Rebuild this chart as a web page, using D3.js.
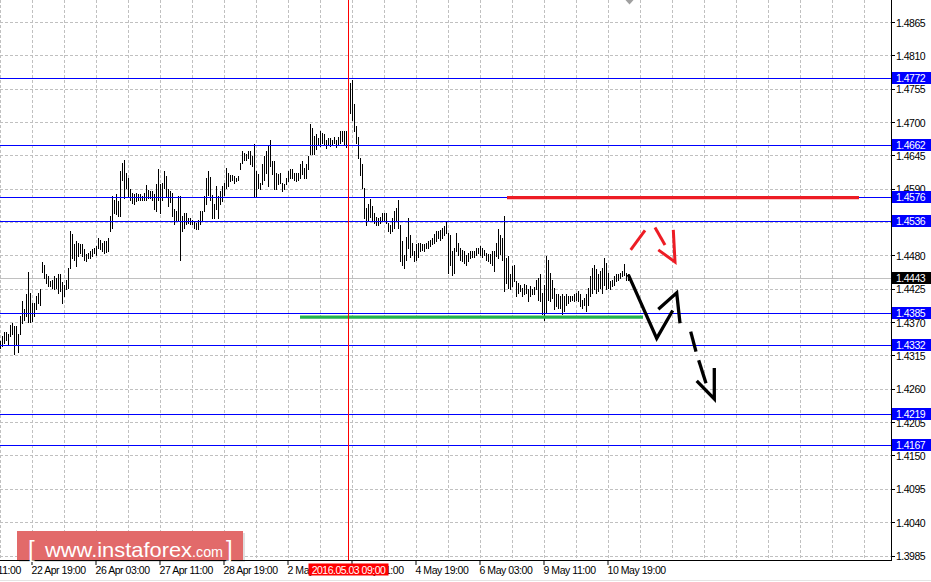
<!DOCTYPE html>
<html><head><meta charset="utf-8">
<script src="https://cdn.jsdelivr.net/npm/d3@7"></script>
<style>
body{margin:0;background:#fff;}
svg{display:block;font-family:"Liberation Sans",Arial,sans-serif;}
</style>
</head><body>
<svg id="chart" width="931" height="582"></svg>
<script>
// ---- data (hourly bars, GBP/USD-like) ----
const highs = [
1.4339,1.4347,1.4354,1.4354,1.4350,1.4365,1.4368,1.4363,1.4363,1.4350,
1.4380,1.4405,1.4391,1.4416,1.4452,1.4418,1.4402,1.4401,1.4413,1.4418,
1.4425,1.4469,1.4465,1.4449,1.4446,1.4438,1.4439,1.4446,1.4443,1.4449,
1.4449,1.4436,1.4432,1.4440,1.4460,1.4520,1.4515,1.4498,1.4504,1.4501,
1.4498,1.4498,1.4490,1.4482,1.4484,1.4487,1.4490,1.4493,1.4495,1.4508,
1.4506,1.4501,1.4504,1.4504,1.4508,1.4545,1.4578,1.4572,1.4581,1.4570,
1.4619,1.4633,1.4638,1.4616,1.4608,1.4589,1.4583,1.4581,1.4583,1.4581,
1.4581,1.4578,1.4583,1.4596,1.4588,1.4586,1.4586,1.4581,1.4597,1.4622,
1.4597,1.4600,1.4619,1.4611,1.4589,1.4586,1.4583,1.4556,1.4554,1.4578,
1.4578,1.4545,1.4550,1.4550,1.4542,1.4541,1.4539,1.4537,1.4534,1.4538,
1.4553,1.4554,1.4578,1.4608,1.4619,1.4609,1.4580,1.4564,1.4594,1.4578,
1.4586,1.4594,1.4600,1.4624,1.4616,1.4613,1.4612,1.4611,1.4608,1.4611,
1.4633,1.4653,1.4649,1.4647,1.4652,1.4653,1.4644,1.4664,1.4619,1.4614,
1.4600,1.4630,1.4644,1.4652,1.4660,1.4671,1.4636,1.4636,1.4616,1.4614,
1.4616,1.4600,1.4597,1.4608,1.4619,1.4622,1.4622,1.4616,1.4616,1.4616,
1.4630,1.4636,1.4625,1.4630,1.4644,1.4696,1.4690,1.4677,1.4680,1.4674,
1.4685,1.4682,1.4680,1.4671,1.4674,1.4674,1.4671,1.4676,1.4671,1.4676,
1.4686,1.4686,1.4686,1.4686,1.4688,1.4764,1.4770,1.4729,1.4693,1.4676,
1.4641,1.4630,1.4591,1.4558,1.4564,1.4573,1.4561,1.4550,1.4544,1.4541,
1.4544,1.4550,1.4550,1.4550,1.4533,1.4530,1.4541,1.4553,1.4558,1.4572,
1.4530,1.4503,1.4481,1.4511,1.4541,1.4514,1.4500,1.4487,1.4498,1.4500,
1.4500,1.4498,1.4499,1.4500,1.4503,1.4506,1.4509,1.4515,1.4521,1.4521,
1.4522,1.4525,1.4528,1.4536,1.4517,1.4514,1.4487,1.4492,1.4517,1.4500,
1.4492,1.4489,1.4487,1.4481,1.4484,1.4487,1.4487,1.4487,1.4492,1.4492,
1.4495,1.4492,1.4489,1.4484,1.4483,1.4482,1.4487,1.4487,1.4501,1.4523,
1.4514,1.4509,1.4545,1.4476,1.4479,1.4449,1.4462,1.4465,1.4438,1.4435,
1.4432,1.4427,1.4433,1.4432,1.4424,1.4429,1.4424,1.4428,1.4440,1.4442,
1.4449,1.4418,1.4432,1.4479,1.4473,1.4451,1.4440,1.4427,1.4416,1.4416,
1.4413,1.4416,1.4413,1.4416,1.4413,1.4413,1.4413,1.4416,1.4418,1.4421,
1.4416,1.4407,1.4410,1.4416,1.4427,1.4446,1.4460,1.4465,1.4457,1.4449,
1.4454,1.4460,1.4476,1.4468,1.4451,1.4438,1.4440,1.4446,1.4449,1.4449,
1.4451,1.4454,1.4466,1.4451,1.4449
];
const lows = [
1.4328,1.4330,1.4336,1.4341,1.4333,1.4347,1.4350,1.4318,1.4333,1.4321,
1.4350,1.4369,1.4374,1.4380,1.4370,1.4370,1.4372,1.4380,1.4391,1.4402,
1.4399,1.4452,1.4443,1.4435,1.4429,1.4429,1.4427,1.4424,1.4427,1.4418,
1.4421,1.4402,1.4413,1.4424,1.4427,1.4460,1.4476,1.4473,1.4462,1.4479,
1.4484,1.4479,1.4473,1.4471,1.4476,1.4476,1.4479,1.4484,1.4480,1.4493,
1.4490,1.4487,1.4484,1.4486,1.4487,1.4520,1.4526,1.4550,1.4548,1.4545,
1.4545,1.4605,1.4575,1.4592,1.4578,1.4572,1.4567,1.4564,1.4570,1.4572,
1.4571,1.4572,1.4572,1.4572,1.4575,1.4575,1.4572,1.4556,1.4553,1.4572,
1.4550,1.4571,1.4592,1.4578,1.4561,1.4568,1.4545,1.4531,1.4537,1.4539,
1.4473,1.4520,1.4526,1.4531,1.4534,1.4532,1.4531,1.4526,1.4523,1.4523,
1.4531,1.4539,1.4553,1.4564,1.4580,1.4572,1.4541,1.4542,1.4556,1.4542,
1.4564,1.4570,1.4580,1.4591,1.4594,1.4602,1.4605,1.4600,1.4602,1.4605,
1.4622,1.4633,1.4638,1.4638,1.4641,1.4630,1.4627,1.4578,1.4578,1.4592,
1.4589,1.4597,1.4605,1.4616,1.4594,1.4627,1.4614,1.4589,1.4589,1.4597,
1.4600,1.4586,1.4589,1.4597,1.4603,1.4608,1.4608,1.4605,1.4602,1.4605,
1.4608,1.4614,1.4608,1.4608,1.4622,1.4647,1.4647,1.4647,1.4655,1.4663,
1.4660,1.4665,1.4663,1.4657,1.4663,1.4660,1.4663,1.4665,1.4658,1.4663,
1.4665,1.4668,1.4663,1.4658,1.4665,1.4715,1.4704,1.4685,1.4665,1.4641,
1.4613,1.4591,1.4542,1.4530,1.4536,1.4544,1.4536,1.4533,1.4530,1.4530,
1.4533,1.4536,1.4539,1.4533,1.4520,1.4517,1.4520,1.4525,1.4536,1.4525,
1.4470,1.4464,1.4459,1.4473,1.4492,1.4478,1.4481,1.4470,1.4473,1.4478,
1.4487,1.4489,1.4488,1.4492,1.4492,1.4495,1.4498,1.4500,1.4503,1.4509,
1.4506,1.4509,1.4514,1.4517,1.4451,1.4464,1.4448,1.4451,1.4487,1.4481,
1.4473,1.4470,1.4467,1.4464,1.4470,1.4476,1.4478,1.4478,1.4481,1.4484,
1.4481,1.4478,1.4481,1.4473,1.4471,1.4468,1.4465,1.4454,1.4479,1.4476,
1.4482,1.4473,1.4421,1.4435,1.4427,1.4424,1.4429,1.4438,1.4413,1.4418,
1.4421,1.4413,1.4416,1.4418,1.4405,1.4413,1.4416,1.4417,1.4424,1.4407,
1.4405,1.4383,1.4374,1.4385,1.4407,1.4405,1.4410,1.4391,1.4396,1.4394,
1.4394,1.4383,1.4388,1.4399,1.4402,1.4405,1.4407,1.4405,1.4407,1.4405,
1.4396,1.4394,1.4399,1.4388,1.4399,1.4413,1.4418,1.4424,1.4418,1.4421,
1.4427,1.4418,1.4432,1.4424,1.4427,1.4424,1.4429,1.4432,1.4438,1.4440,
1.4443,1.4446,1.4447,1.4440,1.4440
];
const priceTicks = [1.4865,1.4810,1.4755,1.4700,1.4645,1.4590,1.4535,1.4480,1.4425,1.4370,1.4315,1.4260,1.4205,1.4150,1.4095,1.4040,1.3985];
const timeLabels = ["21 Apr 11:00","22 Apr 19:00","26 Apr 03:00","27 Apr 11:00","28 Apr 19:00","2 May 03:00","3 May 11:00","4 May 19:00","6 May 03:00","9 May 11:00","10 May 19:00"];
const timeLabelBars = [-16,16,48,80,112,144,176,208,240,272,304];
const levelPrices = [1.4772,1.4662,1.4576,1.4536,1.4385,1.4332,1.4219,1.4167];
const bidPrice = 1.4443;
const cursorBar = 174;
const cursorLabel = "2016.05.03 09:00";
const redZone = [253.25, 429.25, 1.4576];     // [fromBar, toBar, price]
const greenZone = [149.75, 321.25, 1.4379];
// hand-drawn forecast arrows: [bar, price]
const blackPath = [[313.9,1.4449],[328.1,1.4344],[336.1,1.4390]];
const blackHead1 = [[328.9,1.4392],[338.1,1.4419],[339.75,1.4369]];
const blackDash1 = [[345.1,1.4355],[347.75,1.4322]];
const blackDash2 = [[349.1,1.4308],[352.75,1.4270]];
const blackHead2 = [[348.1,1.4274],[356.9,1.4244],[356.9,1.4295]];
const redStroke1 = [[315.1,1.4490],[322.25,1.4522]];
const redStroke2 = [[327.25,1.4527],[332.25,1.4498]];
const redHead = [[328.9,1.4490],[337.25,1.4470],[336.4,1.4523]];

// ---- layout ----
const W = 931, H = 582, plotR = 891, plotB = 560;
const svg = d3.select("#chart");
const x = d3.scaleLinear().domain([0,1]).range([0.5,2.5]);
const y = d3.scaleLinear().domain([1.3985,1.4865]).range([556,22.5]);
const py = v => Math.floor(y(v)) + 0.5;

svg.append("rect").attr("width",W).attr("height",H).attr("fill","#fff");
const plot = svg.append("g");
plot.append("clipPath").attr("id","clip").append("rect").attr("width",plotR).attr("height",plotB);
const g = plot.append("g").attr("clip-path","url(#clip)");

// grid
const gridX = d3.range(0, 28).map(k => k*16);
g.selectAll(".gx").data(gridX).enter().append("line")
  .attr("x1",d=>x(d)).attr("x2",d=>x(d)).attr("y1",0).attr("y2",plotB)
  .attr("stroke","#c0c0c0").attr("stroke-dasharray","3,2");
g.selectAll(".gy").data(priceTicks).enter().append("line")
  .attr("x1",0).attr("x2",plotR).attr("y1",py).attr("y2",py)
  .attr("stroke","#c0c0c0").attr("stroke-dasharray","3,2");

// bid line
g.append("line").attr("x1",0).attr("x2",plotR).attr("y1",py(bidPrice)).attr("y2",py(bidPrice))
  .attr("stroke","#c0c0c0");

// bars
g.selectAll(".bar").data(highs).enter().append("rect")
  .attr("x",(d,i)=>x(i)-0.5).attr("width",1)
  .attr("y",d=>Math.floor(y(d)))
  .attr("height",(d,i)=>Math.max(1,Math.ceil(y(lows[i]))-Math.floor(y(d))))
  .attr("fill","#000");

// level lines
g.selectAll(".lvl").data(levelPrices).enter().append("line")
  .attr("x1",0).attr("x2",plotR).attr("y1",py).attr("y2",py)
  .attr("stroke","#0000ff").attr("stroke-width",1);

// zones
g.append("line").attr("x1",x(redZone[0])).attr("x2",x(redZone[1]))
  .attr("y1",y(redZone[2])).attr("y2",y(redZone[2]))
  .attr("stroke","#ed1c24").attr("stroke-width",3.2);
g.append("line").attr("x1",x(greenZone[0])).attr("x2",x(greenZone[1]))
  .attr("y1",y(greenZone[2])).attr("y2",y(greenZone[2]))
  .attr("stroke","#22b14c").attr("stroke-width",3.4);

// cursor line
g.append("line").attr("x1",x(cursorBar)).attr("x2",x(cursorBar)).attr("y1",0).attr("y2",plotB)
  .attr("stroke","#ff0000").attr("stroke-width",1);

// arrows
const ln = d3.line().x(d=>x(d[0])).y(d=>y(d[1]));
function stroke(pts,color,w){
  g.append("path").attr("d",ln(pts)).attr("fill","none").attr("stroke",color)
   .attr("stroke-width",w).attr("stroke-linejoin","miter").attr("stroke-linecap","butt");
}
[redStroke1,redStroke2,redHead].forEach(p=>stroke(p,"#ed1c24",3));
[blackPath,blackHead1,blackDash1,blackDash2,blackHead2].forEach(p=>stroke(p,"#000",3.3));

// shift marker at top
g.append("path").attr("d",d3.line()([[x(312.5),0],[x(316.5),0],[x(314.5),4.5]]))
  .attr("fill","#a0a0a0");

// axes
svg.append("line").attr("x1",plotR+0.5).attr("x2",plotR+0.5).attr("y1",0).attr("y2",plotB+1)
  .attr("stroke","#000");
svg.append("line").attr("x1",0).attr("x2",plotR+1).attr("y1",plotB+0.5).attr("y2",plotB+0.5)
  .attr("stroke","#000");
svg.append("line").attr("x1",0).attr("x2",W).attr("y1",580.5).attr("y2",580.5).attr("stroke","#e4e4e4");

const rTick = svg.append("g");
rTick.selectAll("line").data(priceTicks).enter().append("line")
  .attr("x1",plotR).attr("x2",plotR+4).attr("y1",py).attr("y2",py).attr("stroke","#000");
rTick.selectAll("text").data(priceTicks).enter().append("text")
  .attr("x",896).attr("y",d=>y(d)+4).attr("font-size",10.5).attr("letter-spacing",-0.5)
  .attr("fill","#000").text(d=>d.toFixed(4));

const bTick = svg.append("g");
bTick.selectAll("line").data(timeLabelBars.filter(b=>b>=0)).enter().append("line")
  .attr("x1",d=>x(d)-0.5).attr("x2",d=>x(d)-0.5).attr("y1",plotB).attr("y2",plotB+5).attr("stroke","#000");
bTick.selectAll("text").data(timeLabels).enter().append("text")
  .attr("x",(d,i)=>x(timeLabelBars[i])-1).attr("y",574).attr("font-size",10.5).attr("letter-spacing",-0.45)
  .attr("fill","#000").text(d=>d);

// level price labels
const lab = svg.append("g");
levelPrices.forEach(p=>{
  const yc = Math.floor(y(p));
  lab.append("rect").attr("x",892).attr("y",yc-6).attr("width",W-892).attr("height",12).attr("fill","#0000ff");
  lab.append("text").attr("x",896).attr("y",yc+4).attr("font-size",10.5).attr("letter-spacing",-0.5)
    .attr("fill","#fff").text(p.toFixed(4));
});
{
  const yc = Math.floor(y(bidPrice));
  lab.append("rect").attr("x",892).attr("y",yc-6).attr("width",W-892).attr("height",12).attr("fill","#000");
  lab.append("text").attr("x",896).attr("y",yc+4).attr("font-size",10.5).attr("letter-spacing",-0.5)
    .attr("fill","#fff").text(bidPrice.toFixed(4));
}
// cursor time label
{
  const cx = x(cursorBar);
  svg.append("rect").attr("x",cx-40).attr("y",563.5).attr("width",80).attr("height",12).attr("fill","#ff0000");
  svg.append("text").attr("x",cx).attr("y",573.5).attr("text-anchor","middle").attr("font-size",10.5)
    .attr("letter-spacing",-0.5).attr("fill","#fff").text(cursorLabel);
}

// watermark
const wm = svg.append("g");
wm.append("rect").attr("x",19).attr("y",533).attr("width",226).attr("height",29).attr("fill","#000").attr("opacity",0.12);
wm.append("rect").attr("x",17).attr("y",531).attr("width",226).attr("height",29).attr("fill","#e26a6a");
wm.append("text").attr("x",28).attr("y",557).attr("font-size",24).attr("fill","#fff").text("[");
wm.append("text").attr("x",45).attr("y",556.5).attr("font-size",21).attr("fill","#fff")
  .attr("textLength",147).attr("lengthAdjust","spacingAndGlyphs").text("www.instaforex");
wm.append("text").attr("x",192).attr("y",556.5).attr("font-size",15.5).attr("fill","#fff")
  .attr("textLength",31).attr("lengthAdjust","spacingAndGlyphs").text(".com");
wm.append("text").attr("x",226).attr("y",557).attr("font-size",24).attr("fill","#fff").text("]");
</script>
</body></html>
